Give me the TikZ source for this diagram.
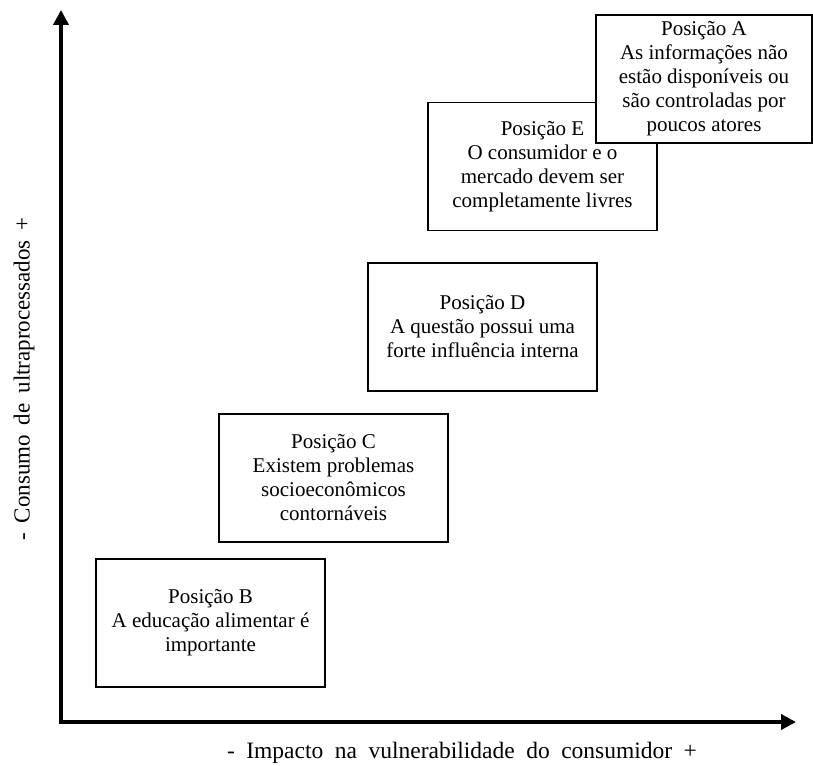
\documentclass[tikz,border=0pt]{standalone}
\usepackage{fontspec}
\setmainfont{Liberation Serif}
\usetikzlibrary{arrows.meta}
\begin{document}
\begin{tikzpicture}[x=1pt,y=-1pt,
  posbox/.style={draw, line width=1.2pt, fill=white, minimum width=229pt,
    minimum height=128pt, inner sep=0pt, align=center,
    font=\fontsize{21}{24}\selectfont},
  axisline/.style={line width=4pt, line join=miter,
    {Triangle[length=15pt,width=15pt]}-{Triangle[length=15pt,width=15pt]}},
  axislabel/.style={inner sep=0pt, font=\fontsize{23}{26}\selectfont}]
\useasboundingbox (0,0) rectangle (813,765);

% position boxes, drawn from lower left to upper right (A sits on top of E)
\node[posbox] (B) at (210.5,623) {Posição B\\A educação alimentar é\\importante};
\node[posbox] (C) at (333.5,478) {Posição C\\Existem problemas\\socioeconômicos\\contornáveis};
\node[posbox] (D) at (482.5,327) {Posição D\\A questão possui uma\\forte influência interna};
\node[posbox] (E) at (542.5,166.5) {Posição E\\O consumidor e o\\mercado devem ser\\completamente livres};
\node[posbox, minimum width=216pt] (A) at (704,79) {Posição A\\As informações não\\estão disponíveis ou\\são controladas por\\poucos atores};

% axes
\coordinate (origin) at (61,722);
\coordinate (ytip) at (61,10);
\coordinate (xtip) at (796,722);
\draw[axisline] (ytip) -- (origin) -- (xtip);

% axis labels
\node[axislabel] (xlabel) at (462,753)
  {\fontsize{23.5}{26}\selectfont\spaceskip=11.5pt - Impacto na vulnerabilidade do consumidor +};
\node[axislabel, rotate=90] (ylabel) at (24,379)
  {\spaceskip=10pt - Consumo de ultraprocessados +};
\end{tikzpicture}
\end{document}
